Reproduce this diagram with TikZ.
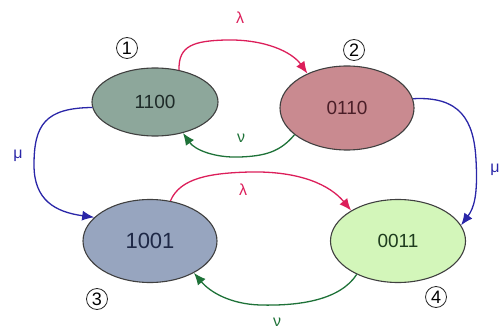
\documentclass[tikz,border=0pt]{standalone}
\usepackage{fontspec}
\setmainfont{Liberation Sans}
\usetikzlibrary{shapes.geometric,arrows.meta}
\definecolor{fillA}{HTML}{8DA79B}
\definecolor{fillB}{HTML}{C98A90}
\definecolor{fillC}{HTML}{97A5BF}
\definecolor{fillD}{HTML}{D3F6BA}
\definecolor{txtA}{HTML}{1E2A28}
\definecolor{txtB}{HTML}{4A1E28}
\definecolor{txtC}{HTML}{1E2846}
\definecolor{txtD}{HTML}{1E3C1E}
\definecolor{lamc}{HTML}{DC1E5A}
\definecolor{nuc}{HTML}{1E7238}
\definecolor{muc}{HTML}{2A26A8}
\tikzset{
  state/.style={ellipse,draw=black!75,line width=1.1pt,inner sep=0pt,font=\fontsize{19}{19}\selectfont},
  trans/.style={line width=1.3pt,-{Latex[length=12pt,width=10pt]}},
  num/.style={circle,draw=black!85,line width=0.8pt,minimum size=21pt,inner sep=0pt,font=\fontsize{18}{18}\selectfont},
  rate/.style={font=\fontsize{16}{16}\selectfont,inner sep=0pt}
}
\begin{document}
\begin{tikzpicture}[x=1pt,y=-1pt]
\useasboundingbox (0,0) rectangle (502,331);
\node[state,fill=fillA,text=txtA,minimum width=126pt,minimum height=68pt] (e1) at (155,102) {1100};
\node[state,fill=fillB,text=txtB,minimum width=134pt,minimum height=84pt] (e2) at (347,108) {0110};
\node[state,fill=fillC,text=txtC,minimum width=134pt,minimum height=83pt,font=\fontsize{22}{22}\selectfont] (e3) at (150,241) {1001};
\node[state,fill=fillD,text=txtD,minimum width=135pt,minimum height=83pt] (e4) at (398,241) {0011};

\node[num] (n1) at (127,48) {1};
\node[num] (n2) at (354,50) {2};
\node[num] (n3) at (97,299) {3};
\node[num] (n4) at (436,297) {4};

\node[rate,text=lamc] (l1) at (240,18) {λ};
\node[rate,text=lamc] (l2) at (243,190) {λ};
\node[rate,text=nuc] (v1) at (241,138) {ν};
\node[rate,text=nuc] (v2) at (277,322) {ν};
\node[rate,text=muc] (m1) at (18,156) {μ};
\node[rate,text=muc] (m2) at (495,170) {μ};

\draw[trans,lamc] (e1.53) .. controls (178,45) and (195,41) .. (225,40) .. controls (265,39) and (292,52) .. (e2.139);
\draw[trans,nuc] (e2.207) .. controls (280,152) and (265,156) .. (240,157) .. controls (215,158) and (195,150) .. (e1.-48);
\draw[trans,muc] (e1.185) .. controls (45,108) and (34,125) .. (34,165) .. controls (34,200) and (55,212) .. (e3.157);
\draw[trans,muc] (e2.8) .. controls (460,96) and (474,120) .. (476,160) .. controls (478,195) and (474,208) .. (e4.14);
\draw[trans,lamc] (e3.63) .. controls (180,178) and (210,173) .. (250,172) .. controls (300,171) and (330,185) .. (e4.147);
\draw[trans,nuc] (e4.219) .. controls (340,300) and (300,306) .. (260,305) .. controls (230,304) and (210,292) .. (e3.-36);
\end{tikzpicture}
\end{document}
